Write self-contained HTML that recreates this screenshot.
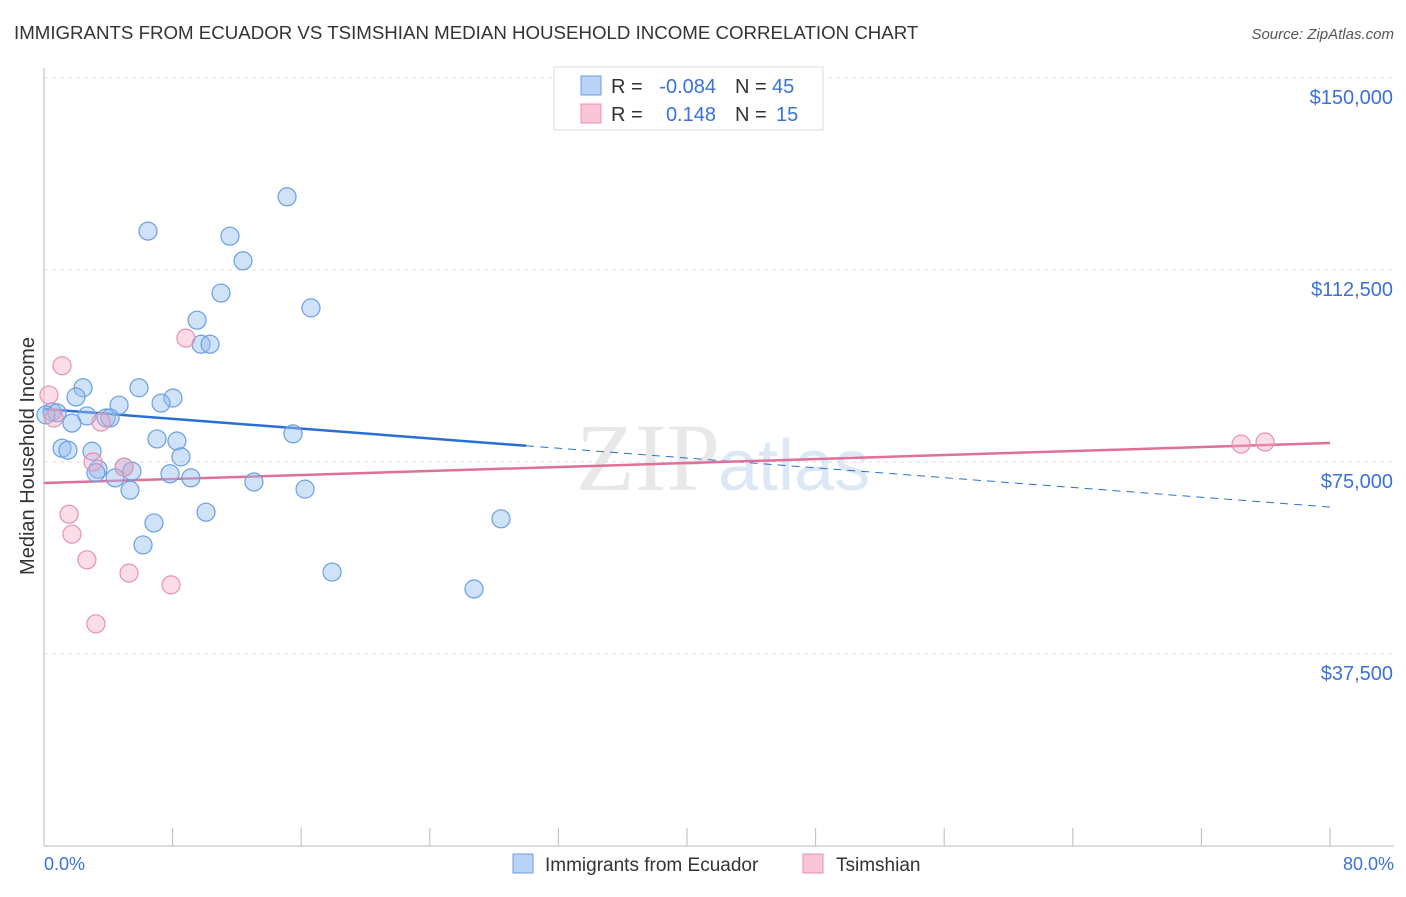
<!DOCTYPE html>
<html><head><meta charset="utf-8"><style>
body{margin:0;background:#fff;font-family:"Liberation Sans",sans-serif;}
</style></head><body>
<svg width="1406" height="892" viewBox="0 0 1406 892" xmlns="http://www.w3.org/2000/svg">
<text x="14" y="39" font-size="18.7" fill="#333">IMMIGRANTS FROM ECUADOR VS TSIMSHIAN MEDIAN HOUSEHOLD INCOME CORRELATION CHART</text>
<text x="1394" y="39" font-size="15" fill="#555" font-style="italic" text-anchor="end">Source: ZipAtlas.com</text>
<text x="720" y="490" font-size="96" fill="#e8e8e8" text-anchor="end" font-family="Liberation Serif,serif">ZIP</text>
<text x="718" y="490" font-size="72" fill="#dde8f5">atlas</text>
<g id="grid"></g><g id="axes"></g><g id="lines"></g><g id="pts"></g>
<text transform="translate(34,456) rotate(-90)" font-size="20" fill="#333" text-anchor="middle">Median Household Income</text>
<text x="44" y="870" font-size="18" fill="#3a72d8">0.0%</text>
<text x="1394" y="870" font-size="18" fill="#3a72d8" text-anchor="end">80.0%</text>
<g font-size="20">
<rect x="554" y="67" width="269" height="63" fill="#fff" stroke="#ddd"/>
<rect x="581" y="76" width="20" height="19" fill="#b8d3f5" stroke="#6a9fe0"/>
<rect x="581" y="104" width="20" height="19" fill="#f9c6d6" stroke="#e890b0"/>
<text x="611" y="93" fill="#333">R =</text>
<text x="716" y="93" fill="#3a72d8" text-anchor="end">-0.084</text>
<text x="735" y="93" fill="#333">N =</text>
<text x="772" y="93" fill="#3a72d8">45</text>
<text x="611" y="121" fill="#333">R =</text>
<text x="716" y="121" fill="#3a72d8" text-anchor="end">0.148</text>
<text x="735" y="121" fill="#333">N =</text>
<text x="776" y="121" fill="#3a72d8">15</text>
</g>
<g>
<rect x="513" y="854" width="20" height="19" fill="#b8d3f5" stroke="#6a9fe0"/>
<text x="545" y="871" font-size="19" fill="#333">Immigrants from Ecuador</text>
<rect x="803" y="854" width="20" height="19" fill="#f9c6d6" stroke="#e890b0"/>
<text x="836" y="871" font-size="19" fill="#333">Tsimshian</text>
</g>
</svg>
<script>
const yTicks=[37500,75000,112500,150000];
const yTickLabels=["$37,500","$75,000","$112,500","$150,000"];
const blueX=[15.12,6.47,11.57,12.38,11.01,9.52,16.61,9.77,10.33,2.43,5.91,1.99,8.02,7.28,4.67,0.50,0.81,2.67,3.86,4.11,1.74,7.03,8.27,15.49,1.12,1.49,2.99,8.52,3.36,3.23,4.98,5.47,4.42,7.84,9.14,13.06,5.35,16.24,10.08,6.84,28.43,6.16,17.92,26.75,0.12];
const blueY=[126.8,120.1,119.1,114.3,108.0,102.7,105.1,98.0,98.0,89.5,89.5,87.7,87.5,86.5,86.1,84.8,84.6,84.0,83.6,83.6,82.6,79.5,79.1,80.5,77.7,77.3,77.1,76.0,73.6,72.9,74.0,73.2,71.9,72.7,71.9,71.1,69.5,69.7,65.2,63.1,63.9,58.8,53.5,50.2,84.2];
const pinkX=[0.31,1.12,0.62,8.83,3.55,3.05,4.98,1.56,1.74,2.67,5.29,7.90,3.23,74.47,75.96];
const pinkY=[88.1,93.8,83.6,99.2,82.8,75.0,74.0,64.8,60.9,55.9,53.3,51.0,43.4,78.5,78.9];
const blueTrend=[85.35,66.2]; // value (k) at 0% and 80%
const pinkTrend=[70.9,78.7];
const NS="http://www.w3.org/2000/svg";
const X=p=>44+p*(1286/80);
const Y=v=>846-v*1000*192/37500;
function mk(t,a,parent){const e=document.createElementNS(NS,t);for(const k in a)e.setAttribute(k,a[k]);document.getElementById(parent).appendChild(e);return e;}
yTicks.forEach((v,i)=>{
 const yy=Y(v/1000);
 const g=mk('line',{x1:44,x2:1394,y1:yy,y2:yy,stroke:'#ddd','stroke-dasharray':'4,4'},'grid');
 
 
 const t=mk('text',{x:1393,y:yy+26,'font-size':20,fill:'#3a72d8','text-anchor':'end'},'grid');
 t.textContent=yTickLabels[i];
 
 
});
const ax=mk('line',{x1:44,x2:44,y1:68,y2:846,stroke:'#bbb'},'axes');


const bx=mk('line',{x1:44,x2:1394,y1:846,y2:846,stroke:'#bbb'},'axes');


for(let i=1;i<=10;i++){const tk=mk('line',{x1:X(i*8),x2:X(i*8),y1:828,y2:846,stroke:'#bbb'},'axes');
 
 }
const tv=(tr,p)=>tr[0]+(tr[1]-tr[0])*p/80;
const bs=mk('line',{x1:X(0),y1:Y(tv(blueTrend,0)),x2:X(30),y2:Y(tv(blueTrend,30)),stroke:'#2a6fd6','stroke-width':2.5},'lines');


const bd=mk('line',{x1:X(30),y1:Y(tv(blueTrend,30)),x2:X(80),y2:Y(tv(blueTrend,80)),stroke:'#2a6fd6','stroke-width':1,'stroke-dasharray':'8,6'},'lines');


const pl=mk('line',{x1:X(0),y1:Y(tv(pinkTrend,0)),x2:X(80),y2:Y(tv(pinkTrend,80)),stroke:'#e0709a','stroke-width':2.5},'lines');


blueX.forEach((x,i)=>{const c=mk('circle',{cx:X(x),cy:Y(blueY[i]),r:9,fill:'rgba(150,190,240,0.45)',stroke:'#6a9fe0','stroke-width':1.2},'pts');
 
 });
pinkX.forEach((x,i)=>{const c=mk('circle',{cx:X(x),cy:Y(pinkY[i]),r:9,fill:'rgba(245,170,195,0.4)',stroke:'#e890b0','stroke-width':1.2},'pts');
 
 });
</script>
</body></html>
